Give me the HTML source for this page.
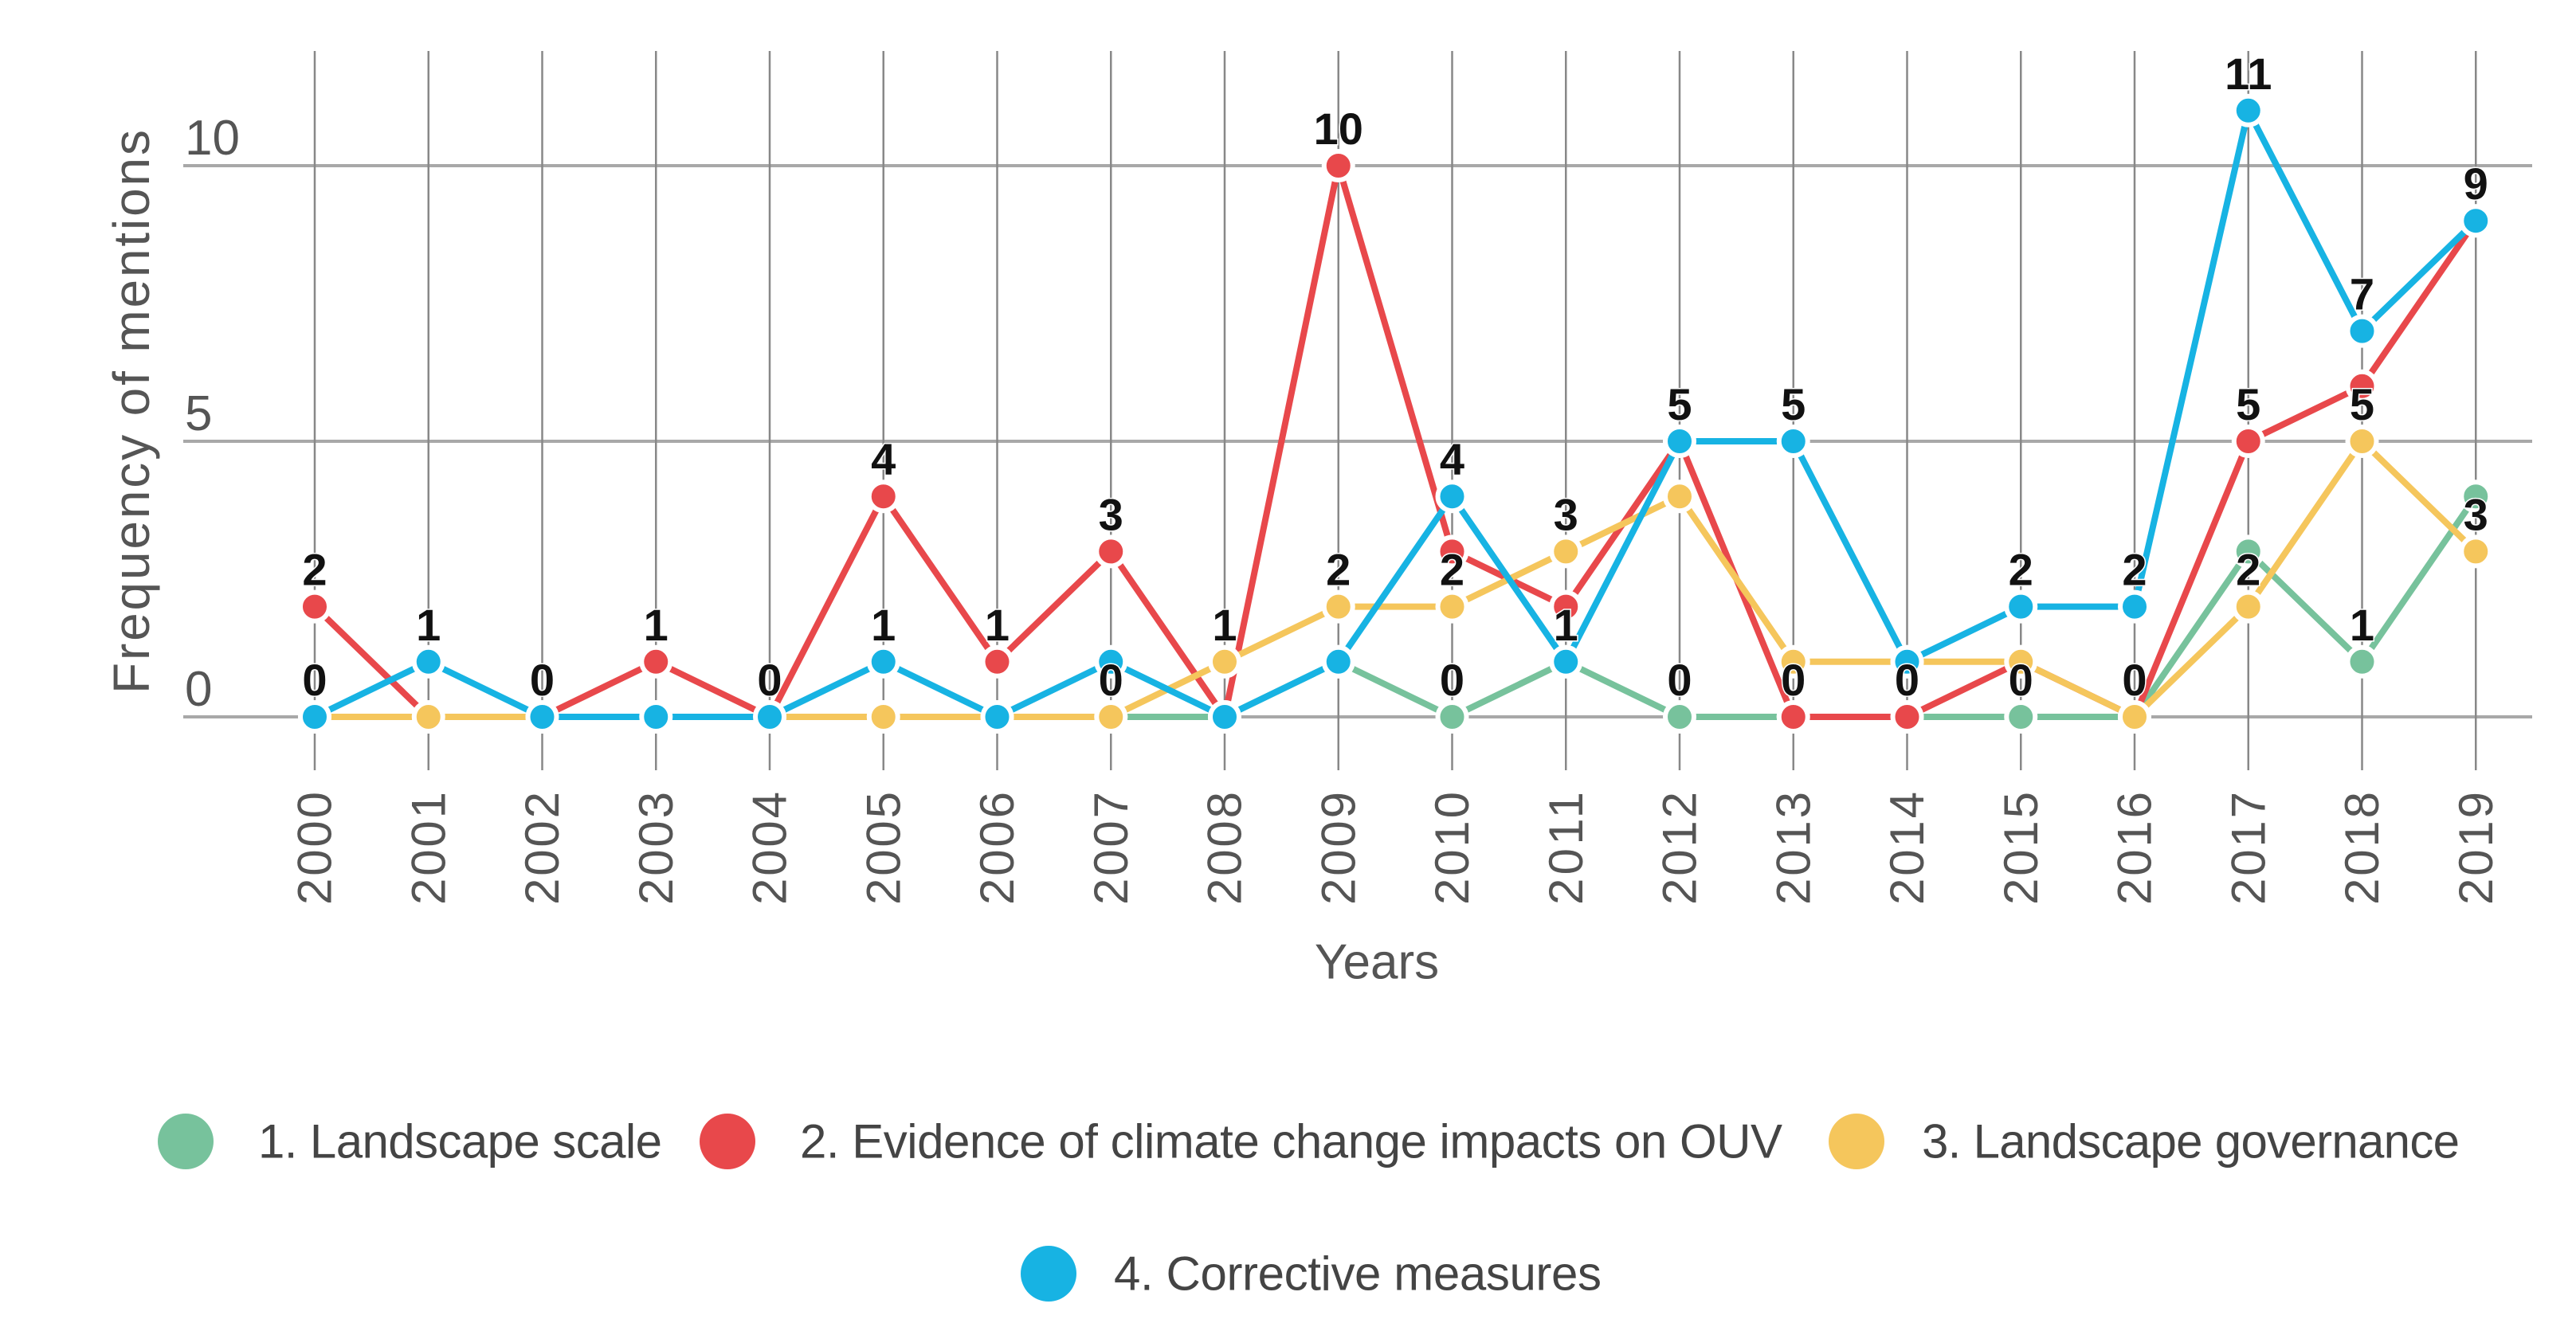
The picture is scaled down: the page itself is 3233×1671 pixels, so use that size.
<!DOCTYPE html>
<html><head><meta charset="utf-8"><style>
html,body{margin:0;padding:0;background:#fff;}
svg{display:block;font-family:"Liberation Sans",sans-serif;}
</style></head><body>
<svg id="chart" width="3233" height="1671" viewBox="0 0 3233 1671">
<g id="grid"></g>
<g id="axes"></g>
<g id="series"></g>
<g id="labels"></g>
<text x="165" y="517" transform="rotate(-90 165 517)" text-anchor="middle" dominant-baseline="central" font-size="64" fill="#555" textLength="708">Frequency of mentions</text>
<text x="1728" y="1208" text-anchor="middle" dominant-baseline="central" font-size="62" fill="#555">Years</text>
<g id="legend"></g>
</svg>
<script>
const years = ["2000","2001","2002","2003","2004","2005","2006","2007","2008","2009","2010","2011","2012","2013","2014","2015","2016","2017","2018","2019"];
const landscapeScale = [0,0,0,0,0,0,0,0,0,1,0,1,0,0,0,0,0,3,1,4];
const climateEvidence = [2,0,0,1,0,4,1,3,0,10,3,2,5,0,0,1,0,5,6,9];
const governance = [0,0,0,0,0,0,0,0,1,2,2,3,4,1,1,1,0,2,5,3];
const corrective = [0,1,0,0,0,1,0,1,0,1,4,1,5,5,1,2,2,11,7,9];
const yTicks = [0,5,10];
const seriesNames = ["1. Landscape scale","2. Evidence of climate change impacts on OUV","3. Landscape governance","4. Corrective measures"];
// value labels: [seriesIndex, yearIndex]
const labelSeries = [1,3, 3, 3, 1, 3, 1,3, 1, 1,0, 2, 1,2, 3,2,0, 2,3, 3,0, 3,1, 1, 3,0, 3,2, 3,1,2, 3,2,0, 3,2];
const labelYears  = [0,0, 1, 2, 3, 4, 5,5, 6, 7,7, 8, 9,9, 10,10,10, 11,11, 12,12, 13,13, 14, 15,15, 16,16, 17,17,17, 18,18,18, 19,19];

const data = [landscapeScale, climateEvidence, governance, corrective];
const colors = ["#77c29c","#e8484b","#f5c65c","#17b3e3"];
const NS = "http://www.w3.org/2000/svg";
const x = i => 395 + i * 142.75;
const y = v => 900 - v * 69.2;
function mk(tag, attrs, parent, text){
  const e = document.createElementNS(NS, tag);
  for (const k in attrs) e.setAttribute(k, attrs[k]);
  if (text !== undefined) e.textContent = text;
  parent.appendChild(e);
  return e;
}
const grid = document.getElementById('grid');
yTicks.forEach(t => {
  const l = mk('line', {x1:230, x2:3178, y1:y(t), y2:y(t), stroke:'#a8a8a8', 'stroke-width':4}, grid);
  
  
  const tx = mk('text', {x:232, y:y(t) - 14, 'font-size':62, fill:'#555'}, grid, String(t));
  
  
});
years.forEach((yr, i) => {
  const l = mk('line', {x1:x(i), x2:x(i), y1:64, y2:967, stroke:'#888', 'stroke-width':2.5}, grid);
  
  
  const tx = mk('text', {x:x(i), y:994, 'font-size':60, fill:'#555', 'text-anchor':'end', 'dominant-baseline':'central', textLength:142, transform:`rotate(-90 ${x(i)} 994)`}, document.getElementById('axes'), yr);
  
  
});
const sg = document.getElementById('series');
data.forEach((vals, s) => {
  const g = mk('g', {}, sg);
  
  
  const pts = vals.map((v,i) => x(i) + ',' + y(v)).join(' ');
  const pl = mk('polyline', {points:pts, fill:'none', stroke:colors[s], 'stroke-width':8, 'stroke-linejoin':'round'}, g);
  
  
  vals.forEach((v,i) => {
    const c = mk('circle', {cx:x(i), cy:y(v), r:18, fill:colors[s], stroke:'#fff', 'stroke-width':6}, g);
    
    
  });
});
const lg = document.getElementById('labels');
labelSeries.forEach((s, k) => {
  const i = labelYears[k];
  const v = data[s][i];
  const t = mk('text', {x:x(i), y:y(v) - 27, 'font-size':56, 'text-anchor':'middle', fill:'#111', 'font-weight':'bold', stroke:'#fff', 'stroke-width':3, 'paint-order':'stroke'}, lg, String(v));
  
  
});
const leg = document.getElementById('legend');
const legCx = [233, 913, 2330, 1316];
const legTx = [324, 1004, 2412, 1398];
const legY = [1433, 1433, 1433, 1599];
const legW = [507, 1233, 675, 612];
seriesNames.forEach((n, s) => {
  const g = mk('g', {}, leg);
  
  
  mk('circle', {cx:legCx[s], cy:legY[s], r:35, fill:colors[s]}, g);
  mk('text', {x:legTx[s], y:legY[s], 'font-size':60, fill:'#444', 'dominant-baseline':'central', textLength:legW[s]}, g, n);
});
</script>
</body></html>
